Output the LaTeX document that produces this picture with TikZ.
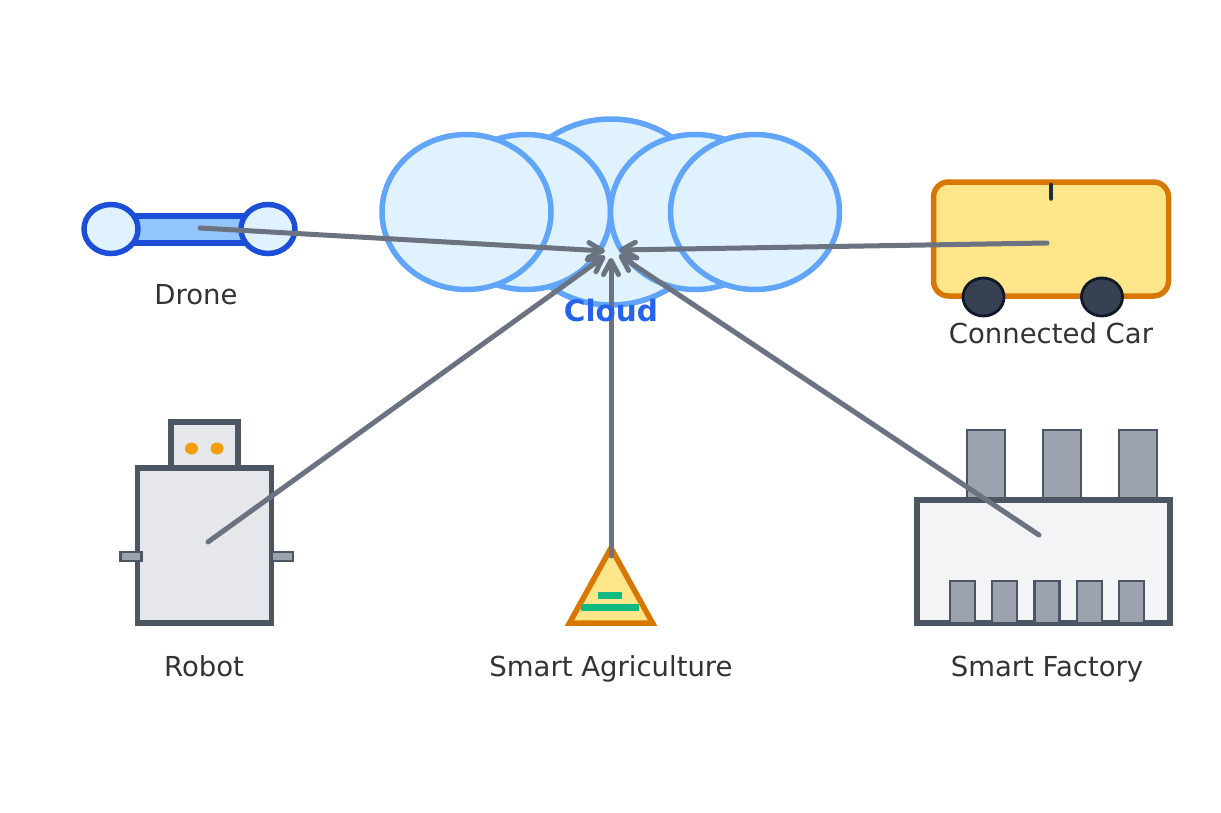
\documentclass[tikz,border=0pt]{standalone}
\usepackage{fontspec}
\setmainfont{DejaVu Sans}
\usepackage{xcolor}
\usetikzlibrary{positioning,arrows.meta,shapes.geometric}
\definecolor{cloudfill}{HTML}{E0F2FE}
\definecolor{cloudline}{HTML}{60A5FA}
\definecolor{cloudtext}{HTML}{2563EB}
\definecolor{dronefill}{HTML}{93C5FD}
\definecolor{droneline}{HTML}{1D4ED8}
\definecolor{carfill}{HTML}{FDE68A}
\definecolor{carline}{HTML}{D97706}
\definecolor{wheelfill}{HTML}{374151}
\definecolor{wheelline}{HTML}{111827}
\definecolor{mastline}{HTML}{1F2937}
\definecolor{steel}{HTML}{4B5563}
\definecolor{steelfill}{HTML}{9CA3AF}
\definecolor{robotfill}{HTML}{E5E7EB}
\definecolor{plantfill}{HTML}{F3F4F6}
\definecolor{eyefill}{HTML}{F59E0B}
\definecolor{rowfill}{HTML}{10B981}
\definecolor{arrowgray}{HTML}{6B7280}
\definecolor{labeltext}{HTML}{333333}

\begin{document}
\begin{tikzpicture}[
  x=1pt, y=-1pt,
  puff/.style={draw=cloudline, fill=cloudfill, ellipse, line width=5.5pt, inner sep=0pt, minimum width=169pt, minimum height=155pt},
  rotor/.style={draw=droneline, fill=cloudfill, ellipse, line width=5.5pt, inner sep=0pt, minimum width=54pt, minimum height=49pt},
  wheel/.style={draw=wheelline, fill=wheelfill, ellipse, line width=2.8pt, inner sep=0pt, minimum width=41pt, minimum height=38pt},
  hull/.style={draw=steel, line width=5.5pt, inner sep=0pt},
  part/.style={draw=steel, fill=steelfill, line width=2.4pt, inner sep=0pt},
  eye/.style={fill=eyefill, ellipse, inner sep=0pt, minimum width=13pt, minimum height=12pt},
  rowbar/.style={fill=rowfill, inner sep=0pt, minimum height=7pt},
  lbl/.style={font=\fontsize{27.5}{32}\selectfont, text=labeltext, inner sep=0pt},
  arr/.style={-{Straight Barb[length=14pt, width=15pt, line width=5pt, round]}, line width=5pt, draw=arrowgray, line cap=round}
]
\useasboundingbox (0,0) rectangle (1221,812);
% cloud
\node[puff, minimum width=204pt, minimum height=186pt] (cloudtop) at (611,212) {};
\node[puff] (cloudb) at (526,212) {};
\node[puff] (clouda) at (466.5,212) {};
\node[puff] (cloudc) at (695,212) {};
\node[puff] (cloudd) at (755,212) {};
% drone
\node[draw=droneline, fill=dronefill, line width=5.5pt, inner sep=0pt, minimum width=112pt, minimum height=27pt] (dronebody) at (190,229.5) {};
\node[rotor] (rotorl) at (111,229) {};
\node[rotor] (rotorr) at (268,229) {};
\node[lbl] (dronelbl) at (196,294.5) {Drone};
% car
\node[draw=carline, fill=carfill, line width=5.5pt, rounded corners=15pt, inner sep=0pt, minimum width=235pt, minimum height=114pt] (carbody) at (1051,239) {};
\node[wheel] (wheell) at (983.5,297) {};
\node[wheel] (wheelr) at (1102,297) {};
\coordinate (mastlo) at (1051,198.5);
\coordinate (masthi) at (1051,185);
\draw[line width=4.5pt, line cap=round, draw=mastline] (mastlo) -- (masthi);
\node[lbl] (carlbl) at (1051,333) {Connected Car};
% robot
\node[hull, fill=robotfill, minimum width=67pt, minimum height=46pt] (head) at (204.5,445) {};
\node[hull, fill=robotfill, minimum width=134pt, minimum height=155pt] (torso) at (204.5,545.5) {};
\node[eye] (eyel) at (191.5,448.5) {};
\node[eye] (eyer) at (217,448.5) {};
\node[part, minimum width=21pt, minimum height=9pt] (arml) at (131,556.5) {};
\node[part, minimum width=21pt, minimum height=9pt] (armr) at (282.5,556.5) {};
\node[lbl] (robotlbl) at (204,666) {Robot};
% field
\draw[draw=carline, fill=carfill, line width=5.5pt] (611,548) -- (652.5,623) -- (569.5,623) -- cycle;
\node[rowbar, minimum width=24pt] (rowa) at (610,595.5) {};
\node[rowbar, minimum width=58pt] (rowb) at (610,607.5) {};
\node[lbl] (fieldlbl) at (611,669) {Smart Agriculture};
% factory
\foreach \i/\cx in {1/986,2/1062,3/1138}
  \node[part, minimum width=38pt, minimum height=69pt] (stack\i) at (\cx,464.5) {};
\node[hull, fill=plantfill, minimum width=253pt, minimum height=123pt] (plant) at (1043.5,561.5) {};
\foreach \i/\cx in {1/962.5,2/1004.5,3/1047,4/1089.5,5/1131.5}
  \node[part, minimum width=25pt, minimum height=42pt] (door\i) at (\cx,602) {};
\node[lbl] (plantlbl) at (1047,669) {Smart Factory};
% links
\coordinate (fromdrone) at (200,228);
\coordinate (fromcar) at (1047,243);
\coordinate (fromrobot) at (208,542);
\coordinate (fromfield) at (611,556);
\coordinate (fromplant) at (1039,535);
\coordinate (todrone) at (605,251);
\coordinate (tocar) at (619,250);
\coordinate (torobot) at (605,256);
\coordinate (tofield) at (611,258);
\coordinate (toplant) at (619,255);
\draw[arr] (fromdrone) -- (todrone);
\draw[arr] (fromcar) -- (tocar);
\draw[arr] (fromrobot) -- (torobot);
\draw[arr] (fromfield) -- (tofield);
\draw[arr] (fromplant) -- (toplant);
\node[lbl, font=\fontsize{29.5}{34}\selectfont\bfseries, text=cloudtext] (cloudlbl) at (611,310.5) {Cloud};
\end{tikzpicture}
\end{document}
